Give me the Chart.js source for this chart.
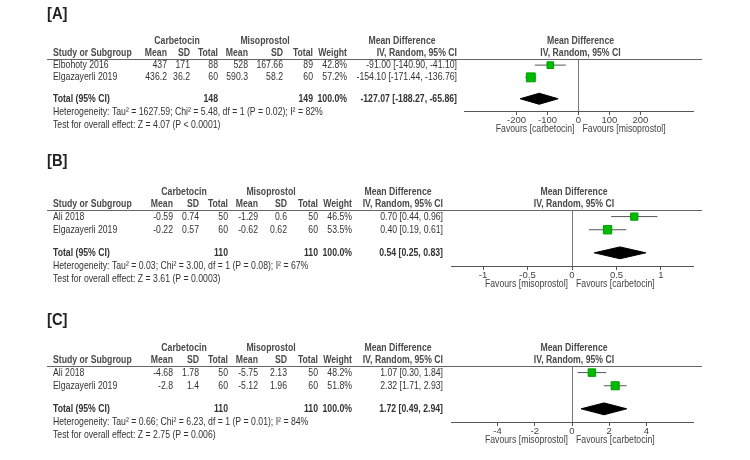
<!DOCTYPE html>
<html>
<head>
<meta charset="utf-8">
<script src="https://cdn.jsdelivr.net/npm/chart.js@4.4.1/dist/chart.umd.min.js"></script>
<style>
  body { margin: 0; background: #fff; }
  .panel { position: absolute; left: 0; width: 750px; }
</style>
</head>
<body>
<div class="panel" id="pA" style="top:0;height:150px"><canvas id="cA"></canvas></div>
<div class="panel" id="pB" style="top:150px;height:150px"><canvas id="cB"></canvas></div>
<div class="panel" id="pC" style="top:300px;height:160px"><canvas id="cC"></canvas></div>
<script>
// --- data, one entry per panel ---
const panelLabels = ['[A]', '[B]', '[C]'];
const studyNames = [['Elbohoty 2016', 'Elgazayerli 2019'], ['Ali 2018', 'Elgazayerli 2019'], ['Ali 2018', 'Elgazayerli 2019']];
const carbMean = [[437, 436.2], [-0.59, -0.22], [-4.68, -2.8]];
const carbSD = [[171, 36.2], [0.74, 0.57], [1.78, 1.4]];
const carbN = [[88, 60], [50, 60], [50, 60]];
const misoMean = [[528, 590.3], [-1.29, -0.62], [-5.75, -5.12]];
const misoSD = [[167.66, 58.2], [0.6, 0.62], [2.13, 1.96]];
const misoN = [[89, 60], [50, 60], [50, 60]];
const weights = [[42.8, 57.2], [46.5, 53.5], [48.2, 51.8]];
const meanDiff = [[-91.00, -154.10], [0.70, 0.40], [1.07, 2.32]];
const ciLow = [[-140.90, -171.44], [0.44, 0.19], [0.30, 1.71]];
const ciHigh = [[-41.10, -136.76], [0.96, 0.61], [1.84, 2.93]];
const totalCarbN = [148, 110, 110];
const totalMisoN = [149, 110, 110];
const totalMD = [-127.07, 0.54, 1.72];
const totalLow = [-188.27, 0.25, 0.49];
const totalHigh = [-65.86, 0.83, 2.94];
const heterogeneity = [
  'Heterogeneity: Tau\u00b2 = 1627.59; Chi\u00b2 = 5.48, df = 1 (P = 0.02); I\u00b2 = 82%',
  'Heterogeneity: Tau\u00b2 = 0.03; Chi\u00b2 = 3.00, df = 1 (P = 0.08); I\u00b2 = 67%',
  'Heterogeneity: Tau\u00b2 = 0.66; Chi\u00b2 = 6.23, df = 1 (P = 0.01); I\u00b2 = 84%'
];
const overallEffect = [
  'Test for overall effect: Z = 4.07 (P < 0.0001)',
  'Test for overall effect: Z = 3.61 (P = 0.0003)',
  'Test for overall effect: Z = 2.75 (P = 0.006)'
];
const axisTicks = [[-200, -100, 0, 100, 200], [-1, -0.5, 0, 0.5, 1], [-4, -2, 0, 2, 4]];
const axisRange = [370, 1.36, 6.5];
const favoursLeft = ['Favours [carbetocin]', 'Favours [misoprostol]', 'Favours [misoprostol]'];
const favoursRight = ['Favours [misoprostol]', 'Favours [carbetocin]', 'Favours [carbetocin]'];

// --- layout (pixels) ---
const canvasTop = [0, 150, 300];
const canvasH = [150, 150, 160];
const labelY = [15, 162, 321];
const headLineY = [59, 210, 366];
const axisY = [111, 266, 422];
const plotLeft = [464, 451, 451];
const plotRight = 693;
// right edges: mean, sd, total, mean, sd, total, weight, CI
const colX = [
  [167, 190, 218, 248, 283, 313, 347, 457],
  [173, 199, 228, 258, 287, 318, 352, 443],
  [173, 199, 228, 258, 287, 318, 352, 443]
];
const groupX = [[177, 265, 402], [184, 271, 398], [184, 271, 398]];
const AXIS_H = 30;
const SX = 0.79;
const FONT = '"Liberation Sans", Arial, sans-serif';
const TOTAL_ROW = 3.75;

function txt(ctx, s, x, y, align, bold, size, color, sx) {
  ctx.save();
  ctx.font = (bold ? 'bold ' : '') + (size || 11) + 'px ' + FONT;
  ctx.fillStyle = color || '#333';
  ctx.textAlign = align;
  ctx.textBaseline = 'middle';
  ctx.translate(x, y);
  ctx.scale(sx || SX, 1);
  ctx.fillText(s, 0, 0);
  ctx.restore();
}

function ciText(m, l, h) {
  return m.toFixed(2) + ' [' + l.toFixed(2) + ', ' + h.toFixed(2) + ']';
}

const forestText = {
  id: 'forestText',
  afterDraw(chart, args, opts) {
    const i = opts.idx;
    const ctx = chart.ctx;
    const y = chart.scales.y;
    const x = chart.scales.x;
    const top = chart.chartArea.top;
    const c = colX[i];
    const g = groupX[i];
    const hd = '#4a4a4a';

    txt(ctx, panelLabels[i], 47, labelY[i] - canvasTop[i], 'left', true, 16, '#222', 0.92);

    // header rows
    txt(ctx, 'Carbetocin', g[0], top - 18, 'center', true, 11, hd);
    txt(ctx, 'Misoprostol', g[1], top - 18, 'center', true, 11, hd);
    txt(ctx, 'Mean Difference', g[2], top - 18, 'center', true, 11, hd);
    txt(ctx, 'Mean Difference', (chart.chartArea.left + plotRight) / 2 + 2, top - 18, 'center', true, 11, hd);
    txt(ctx, 'Study or Subgroup', 53, top - 6, 'left', true, 11, hd);
    ['Mean', 'SD', 'Total', 'Mean', 'SD', 'Total', 'Weight', 'IV, Random, 95% CI'].forEach((h, k) => {
      txt(ctx, h, c[k], top - 6, 'right', true, 11, hd);
    });
    txt(ctx, 'IV, Random, 95% CI', (chart.chartArea.left + plotRight) / 2 + 2, top - 6, 'center', true, 11, hd);

    // header rule
    ctx.save();
    ctx.strokeStyle = '#666';
    ctx.lineWidth = 1;
    ctx.beginPath();
    ctx.moveTo(47, Math.round(top) + 0.5);
    ctx.lineTo(702, Math.round(top) + 0.5);
    ctx.stroke();
    ctx.restore();

    // study rows
    studyNames[i].forEach((name, j) => {
      const py = y.getPixelForValue(j + 1);
      const vals = [carbMean[i][j], carbSD[i][j], carbN[i][j], misoMean[i][j], misoSD[i][j], misoN[i][j]];
      txt(ctx, name, 53, py, 'left');
      vals.forEach((v, k) => txt(ctx, String(v), c[k], py, 'right'));
      txt(ctx, weights[i][j].toFixed(1) + '%', c[6], py, 'right');
      txt(ctx, ciText(meanDiff[i][j], ciLow[i][j], ciHigh[i][j]), c[7], py, 'right');
    });

    // total row
    const ty = y.getPixelForValue(TOTAL_ROW);
    txt(ctx, 'Total (95% CI)', 53, ty, 'left', true);
    txt(ctx, String(totalCarbN[i]), c[2], ty, 'right', true);
    txt(ctx, String(totalMisoN[i]), c[5], ty, 'right', true);
    txt(ctx, '100.0%', c[6], ty, 'right', true);
    txt(ctx, ciText(totalMD[i], totalLow[i], totalHigh[i]), c[7], ty, 'right', true);
    txt(ctx, heterogeneity[i], 53, ty + 13, 'left');
    txt(ctx, overallEffect[i], 53, ty + 26, 'left');

    // favours labels
    const zx = x.getPixelForValue(0);
    const fy = chart.chartArea.bottom + 18;
    txt(ctx, favoursLeft[i], zx - 4, fy, 'right', false, 11, '#444');
    txt(ctx, favoursRight[i], zx + 4, fy, 'left', false, 11, '#444');
  }
};

function makeChart(i, id) {
  const datasets = [];
  // study squares
  datasets.push({
    type: 'scatter',
    data: meanDiff[i].map((m, j) => ({ x: m, y: j + 1 })),
    pointStyle: 'rect',
    pointRadius: weights[i].map(w => w * 0.11),
    backgroundColor: '#00bb00',
    borderColor: '#009a00',
    borderWidth: 1,
    order: 0
  });
  // confidence interval lines
  meanDiff[i].forEach((m, j) => {
    datasets.push({
      type: 'line',
      data: [{ x: ciLow[i][j], y: j + 1 }, { x: ciHigh[i][j], y: j + 1 }],
      borderColor: '#555',
      borderWidth: 1,
      pointRadius: 0,
      order: 1
    });
  });
  // pooled diamond
  const d = 0.45;
  datasets.push({
    type: 'line',
    data: [
      { x: totalLow[i], y: TOTAL_ROW },
      { x: totalMD[i], y: TOTAL_ROW - d },
      { x: totalHigh[i], y: TOTAL_ROW },
      { x: totalMD[i], y: TOTAL_ROW + d },
      { x: totalLow[i], y: TOTAL_ROW }
    ],
    borderColor: '#000',
    backgroundColor: '#000',
    borderWidth: 1,
    pointRadius: 0,
    tension: 0,
    fill: 'shape',
    order: 0
  });

  const localLine = headLineY[i] - canvasTop[i];
  const localAxis = axisY[i] - canvasTop[i];

  return new Chart(document.getElementById(id), {
    type: 'line',
    data: { datasets },
    plugins: [forestText],
    options: {
      responsive: true,
      maintainAspectRatio: false,
      animation: false,
      events: [],
      layout: {
        padding: {
          left: plotLeft[i],
          right: 750 - plotRight,
          top: localLine,
          bottom: canvasH[i] - localAxis - AXIS_H
        }
      },
      plugins: {
        legend: { display: false },
        tooltip: { enabled: false },
        forestText: { idx: i }
      },
      scales: {
        x: {
          type: 'linear',
          min: -axisRange[i],
          max: axisRange[i],
          afterBuildTicks: s => { s.ticks = axisTicks[i].map(v => ({ value: v })); },
          afterFit: s => { s.height = AXIS_H; },
          border: { display: true, color: '#555', width: 1 },
          grid: {
            drawOnChartArea: true,
            color: c => (c.tick && c.tick.value === 0 ? '#777' : 'rgba(0,0,0,0)'),
            tickColor: '#555',
            tickLength: 4,
            lineWidth: 1
          },
          ticks: {
            padding: 0,
            maxRotation: 0,
            color: '#444',
            font: { size: 9.5, family: FONT },
            callback: v => String(v)
          }
        },
        y: {
          type: 'linear',
          display: false,
          reverse: true,
          min: 0.5,
          max: 4.75
        }
      }
    }
  });
}

makeChart(0, 'cA');
makeChart(1, 'cB');
makeChart(2, 'cC');
</script>
</body>
</html>
